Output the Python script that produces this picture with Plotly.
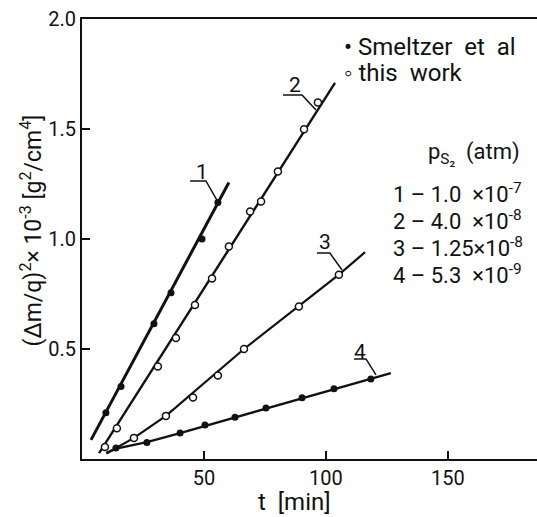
import plotly.graph_objects as go

# ---- data ----
# filled points (Smeltzer et al)
t1 = [9.8, 16.0, 29.5, 36.5, 49.2, 55.7]
y1 = [0.21, 0.33, 0.615, 0.756, 1.00, 1.166]
t4 = [13.9, 26.6, 40.2, 50.4, 62.7, 75.4, 90.2, 103.3, 118.4]
y4 = [0.05, 0.075, 0.118, 0.155, 0.19, 0.232, 0.278, 0.319, 0.364]
# open points (this work)
t2 = [9.4, 14.3, 31.1, 38.5, 46.3, 53.3, 60.2, 68.9, 73.4, 80.3, 91.0, 96.7]
y2 = [0.055, 0.14, 0.42, 0.55, 0.70, 0.82, 0.966, 1.125, 1.17, 1.307, 1.499, 1.62]
t3 = [21.3, 34.4, 45.5, 55.7, 66.4, 88.9, 105.3]
y3 = [0.096, 0.196, 0.28, 0.38, 0.50, 0.693, 0.838]

# drawn curves (vertices)
c1_t = [3.7, 60.2]
c1_y = [0.087, 1.257]
c2_t = [7.0, 103.7]
c2_y = [0.027, 1.71]
c3_t = [10.0, 21.3, 34.4, 66.4, 105.3, 116.0]
c3_y = [0.025, 0.096, 0.196, 0.50, 0.838, 0.94]
c4_t = [10.0, 14.0, 26.6, 40.2, 126.6]
c4_y = [0.028, 0.047, 0.077, 0.118, 0.39]

# curve labels: text pos, underline x-range, underline y, leader end
lab_txt = ["1", "2", "3", "4"]
lab_x = [49.2, 87.3, 99.6, 113.9]
lab_y = [1.305, 1.70, 0.986, 0.486]
ul_x0 = [44.3, 82.4, 96.3, 111.5]
ul_x1 = [50.8, 90.2, 101.6, 116.4]
ul_y = [1.264, 1.655, 0.936, 0.455]
ld_x = [55.3, 95.9, 106.6, 120.5]
ld_y = [1.177, 1.586, 0.859, 0.382]

x_ticks = [50, 100, 150]
y_ticks = [0.5, 1.0, 1.5, 2.0]
y_ticklabels = ["0.5", "1.0", "1.5", "2.0"]

press_lines = ["1 – 1.0  ×10<sup>-7</sup>", "2 – 4.0  ×10<sup>-8</sup>",
               "3 – 1.25×10<sup>-8</sup>", "4 – 5.3  ×10<sup>-9</sup>"]
press_y = [1.209, 1.086, 0.964, 0.841]

FONT = "Roboto, Liberation Sans, sans-serif"
BLACK = "#111111"

fig = go.Figure()

for ct, cy, w in [(c1_t, c1_y, 3), (c2_t, c2_y, 2.4), (c3_t, c3_y, 2.2), (c4_t, c4_y, 2.4)]:
    fig.add_trace(go.Scatter(x=ct, y=cy, mode="lines", line=dict(color=BLACK, width=w),
                             hoverinfo="skip", showlegend=False))

for tt, yy in [(t1, y1), (t4, y4)]:
    fig.add_trace(go.Scatter(x=tt, y=yy, mode="markers",
                             marker=dict(symbol="circle", size=7, color=BLACK),
                             showlegend=False))
for tt, yy in [(t2, y2), (t3, y3)]:
    fig.add_trace(go.Scatter(x=tt, y=yy, mode="markers",
                             marker=dict(symbol="circle", size=7, color="white",
                                         line=dict(color=BLACK, width=1.5)),
                             showlegend=False))

shapes = []
annotations = []
for i in range(4):
    shapes.append(dict(type="path", xref="x", yref="y",
                       path=f"M {ul_x0[i]},{ul_y[i]} L {ul_x1[i]},{ul_y[i]} L {ld_x[i]},{ld_y[i]}",
                       line=dict(color=BLACK, width=1.5)))
    annotations.append(dict(x=lab_x[i], y=lab_y[i], xref="x", yref="y", text=lab_txt[i],
                            showarrow=False, font=dict(size=21, color=BLACK, family=FONT)))

annotations.append(dict(x=106.5, y=1.873, xref="x", yref="y", xanchor="left",
                        text="• Smeltzer  et  al", showarrow=False,
                        font=dict(size=24, color=BLACK, family=FONT)))
annotations.append(dict(x=106.5, y=1.755, xref="x", yref="y", xanchor="left",
                        text="◦ this  work", showarrow=False,
                        font=dict(size=24, color=BLACK, family=FONT)))
annotations.append(dict(x=141.0, y=1.39, xref="x", yref="y", xanchor="left",
                        text="p<sub>S₂</sub>  (atm)", showarrow=False,
                        font=dict(size=22, color=BLACK, family=FONT)))
for s, yy in zip(press_lines, press_y):
    annotations.append(dict(x=126.6, y=yy, xref="x", yref="y", xanchor="left",
                            text=s, showarrow=False,
                            font=dict(size=22, color=BLACK, family=FONT)))

annotations.append(dict(x=-0.15, y=0.52, xref="paper", yref="paper", textangle=-90,
                        text="(Δm/q)<sup>2</sup>× 10<sup>-3</sup> [g<sup>2</sup>/cm<sup>4</sup>]",
                        showarrow=False, font=dict(size=23, color=BLACK, family=FONT)))
annotations.append(dict(x=0.468, y=-0.062, xref="paper", yref="paper", yanchor="top",
                        text="t  [min]", showarrow=False,
                        font=dict(size=24, color=BLACK, family=FONT)))

fig.update_layout(
    width=537, height=517,
    margin=dict(l=82, r=0, t=19, b=58),
    paper_bgcolor="white", plot_bgcolor="white",
    shapes=shapes, annotations=annotations,
    font=dict(family=FONT, color=BLACK, size=20),
    xaxis=dict(range=[0, 186.5], tickvals=x_ticks, ticks="inside", ticklen=8,
               tickwidth=1.5, tickcolor=BLACK, showline=True, linecolor=BLACK,
               linewidth=2, mirror=True, showgrid=False, zeroline=False,
               tickfont=dict(size=20, family=FONT)),
    yaxis=dict(range=[0, 2.0], tickvals=y_ticks, ticktext=y_ticklabels,
               ticks="inside", ticklen=8, tickwidth=1.5, tickcolor=BLACK,
               showline=True, linecolor=BLACK, linewidth=2, showgrid=False,
               zeroline=False, tickfont=dict(size=20, family=FONT)),
)

fig.write_html("out.html", config={"displayModeBar": False},
               post_script="document.body.style.margin='0';")
